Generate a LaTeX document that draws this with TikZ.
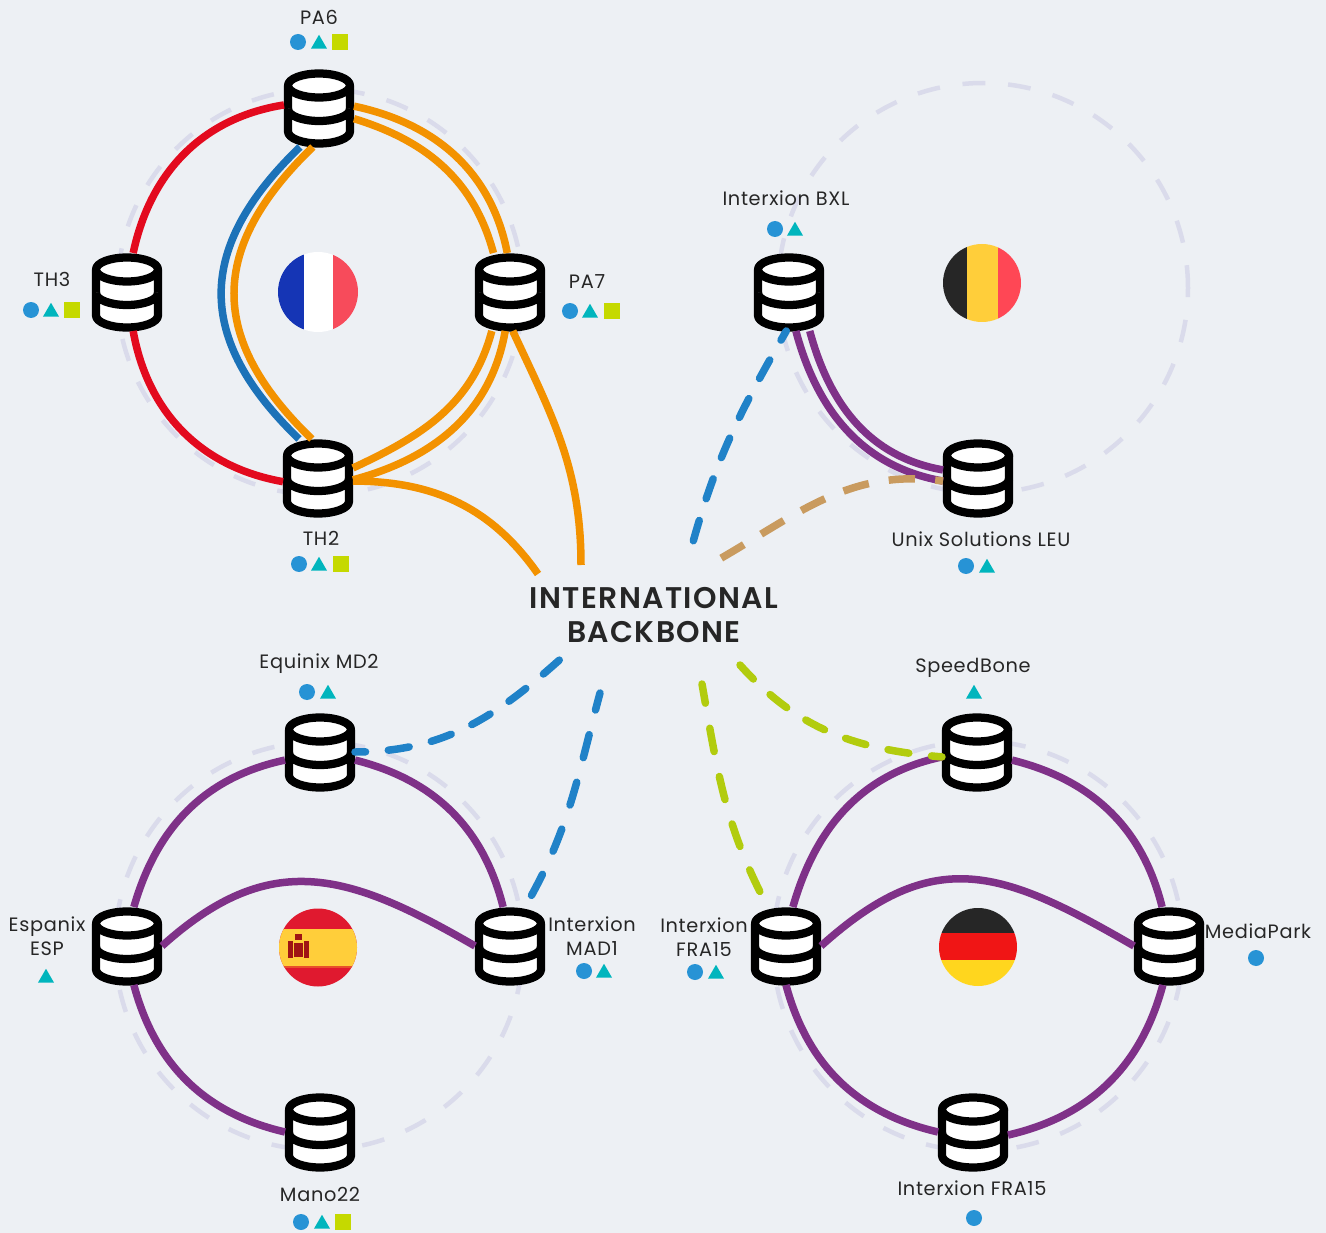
\documentclass[tikz,border=0pt]{standalone}
\usepackage{fontspec}
\setmainfont[LetterSpace=3.5]{Poppins}
\newfontfamily\bbfont[LetterSpace=4.5]{Poppins SemiBold}
\usetikzlibrary{shapes.geometric}

\definecolor{bgcol}{HTML}{EDF0F4}
\definecolor{ringcol}{HTML}{DADBEB}
\definecolor{redcol}{HTML}{E30A1E}
\definecolor{bluecol}{HTML}{1C72B8}
\definecolor{dashblue}{HTML}{2082C8}
\definecolor{orangecol}{HTML}{F39200}
\definecolor{purplecol}{HTML}{7F3188}
\definecolor{tancol}{HTML}{C99B5F}
\definecolor{limecol}{HTML}{B2CC0E}
\definecolor{dotcol}{HTML}{2793D5}
\definecolor{tricol}{HTML}{00B5BD}
\definecolor{sqcol}{HTML}{C5D900}
\definecolor{frblue}{HTML}{1535B5}
\definecolor{frred}{HTML}{F74B5B}
\definecolor{flagblack}{HTML}{262626}
\definecolor{beyellow}{HTML}{FFCE3A}
\definecolor{bered}{HTML}{FF4755}
\definecolor{esred}{HTML}{E0192F}
\definecolor{esdark}{HTML}{A01414}
\definecolor{esstripe}{HTML}{E8502A}
\definecolor{dered}{HTML}{F01515}
\definecolor{deyellow}{HTML}{FFD61E}

\tikzset{
  dbbox/.style={rectangle,minimum width=1.4cm,minimum height=1.56cm,inner sep=0,outer sep=0},
  dbline/.style={draw=black,fill=white,line width=0.165cm,line join=round},
  ringline/.style={draw=ringcol,line width=0.09cm,dash pattern=on 13pt off 13pt},
  link/.style={line width=0.15cm},
  dashlink/.style={line width=0.15cm,line cap=round,dash pattern=on 12pt off 13pt},
  longdash/.style={line width=0.15cm,line cap=round,dash pattern=on 13.5pt off 14.5pt},
  tanlink/.style={line width=0.15cm,draw=tancol,dash pattern=on 15pt off 11.5pt,dash phase=10.5pt},
  lab/.style={font=\fontsize{11}{13.5}\selectfont,text=black!85,inner sep=0,align=center},
  dotmark/.style={circle,fill=dotcol,minimum size=0.32cm,inner sep=0},
  trimark/.style={regular polygon,regular polygon sides=3,fill=tricol,minimum size=0.37cm,inner sep=0},
  sqmark/.style={rectangle,fill=sqcol,minimum size=0.32cm,inner sep=0},
}

\newcommand{\dbnode}[2]{
  \node[dbbox] (#1) at (#2) {};
  \begin{scope}[shift={(#2)}]
    \draw[dbline] (-31,22.5) -- (-31,-23.5) arc[start angle=180,end angle=360,x radius=31,y radius=12] -- (31,22.5);
    \draw[dbline] (-31,-1) arc[start angle=180,end angle=360,x radius=31,y radius=12];
    \draw[dbline] (0,22.5) ellipse[x radius=31,y radius=12];
  \end{scope}
}

\begin{document}
\begin{tikzpicture}[x=0.02cm,y=0.02cm]
  \fill[bgcol] (0,0) rectangle (1326,-1233);

  % rings
  \draw[ringline] (320,-292) circle[radius=203];
  \draw[ringline] (983,-288) circle[radius=205];
  \draw[ringline] (319,-946) circle[radius=204];
  \draw[ringline] (978,-946) circle[radius=205];

  % flags
  \begin{scope}
    \clip (318,-292) circle[radius=40];
    \fill[frblue] (270,-245) rectangle (304,-340);
    \fill[white] (304,-245) rectangle (333,-340);
    \fill[frred] (333,-245) rectangle (365,-340);
  \end{scope}
  \begin{scope}
    \clip (982,-283) circle[radius=39];
    \fill[flagblack] (935,-240) rectangle (967,-330);
    \fill[beyellow] (967,-240) rectangle (998,-330);
    \fill[bered] (998,-240) rectangle (1030,-330);
  \end{scope}
  \begin{scope}
    \clip (318,-947.5) circle[radius=39];
    \fill[esred] (270,-900) rectangle (365,-990);
    \fill[beyellow] (270,-929) rectangle (365,-966);
    \fill[esstripe] (270,-966) rectangle (365,-968);
    \fill[esdark] (288,-941) rectangle (293,-958);
    \fill[esdark] (294,-943) rectangle (303,-957);
    \fill[esdark] (304,-941) rectangle (309,-958);
    \fill[esdark] (295,-934) rectangle (302,-940);
  \end{scope}
  \begin{scope}
    \clip (978,-947) circle[radius=39];
    \fill[flagblack] (930,-900) rectangle (1025,-933);
    \fill[dered] (930,-933) rectangle (1025,-960);
    \fill[deyellow] (930,-960) rectangle (1025,-990);
  \end{scope}

  % data centres
  \dbnode{pa6}{319,-108}
  \dbnode{th3}{127,-292}
  \dbnode{pa7}{510,-292}
  \dbnode{th2}{318,-478}
  \dbnode{bxl}{789,-292}
  \dbnode{leu}{978,-478}
  \dbnode{md2}{320,-752}
  \dbnode{esp}{127,-946}
  \dbnode{mad}{510,-946}
  \dbnode{mano}{320,-1132}
  \dbnode{speed}{977,-752}
  \dbnode{fra}{786,-946}
  \dbnode{media}{1169,-946}
  \dbnode{frab}{973,-1132}

  % backbone
  \node[font=\bbfont\fontsize{17}{19.3}\selectfont,text=black!85,align=center,inner sep=0] (backbone) at (654,-615) {INTERNATIONAL\\BACKBONE};
  \coordinate (bbo1) at (581,-565);
  \coordinate (bbo2) at (538,-574);
  \coordinate (bbb1) at (690,-553);
  \coordinate (bbt1) at (718,-560);
  \coordinate (bbb2) at (565,-655);
  \coordinate (bbb3) at (600,-693);
  \coordinate (bbg1) at (702,-684);
  \coordinate (bbg2) at (740,-665);

  % paris
  \draw[link,redcol] (pa6.175) to[out=189,in=78] (th3.81);
  \draw[link,redcol] (th3.-81) to[out=-80,in=170] (th2.186);
  \draw[link,bluecol] (pa6.244) to[out=224,in=136,looseness=1.27] (th2.116);
  \draw[link,orangecol] (pa6.261) to[out=224,in=136,looseness=1.27] (th2.99);
  \draw[link,orangecol] (pa6.3) to[out=-12,in=101] (pa7.94);
  \draw[link,orangecol] (pa6.-17) to[out=-17,in=105] (pa7.113);
  \draw[link,orangecol] (pa7.263) to[out=-100,in=15] (th2.-3);
  \draw[link,orangecol] (pa7.245) to[out=-105,in=25] (th2.16);
  \draw[link,orangecol] (pa7.-86) to[out=-65,in=90] (bbo1);
  \draw[link,orangecol] (th2.-5) to[out=0,in=125] (bbo2);

  % brussels
  \draw[link,purplecol] (bxl.-80) to[out=-75,in=170] (leu.185);
  \draw[link,purplecol] (bxl.-62) to[out=-75,in=170] (leu.167);
  \draw[dashlink,dashblue,dash phase=6pt] (bxl.-94) to[out=-120,in=75] (bbb1);
  \draw[tanlink] (leu.-175) to[out=172,in=30] (bbt1);

  % madrid
  \draw[link,purplecol] (md2.-167) to[out=192,in=74] (esp.80);
  \draw[link,purplecol] (md2.-13) to[out=-14,in=104] (mad.100);
  \draw[link,purplecol] (esp.-80) to[out=-75,in=167] (mano.west);
  \draw[link,purplecol] (esp.east) to[out=42,in=150,looseness=1.2] (mad.west);
  \draw[dashlink,dashblue,dash phase=6pt] (md2.east) to[out=0,in=222] (bbb2);
  \draw[longdash,dashblue,dash phase=20.4pt] (mad.69) to[out=60,in=-105] (bbb3);

  % frankfurt
  \draw[link,purplecol] (speed.-172) to[out=192,in=74] (fra.80);
  \draw[link,purplecol] (speed.-13) to[out=-14,in=104] (media.100);
  \draw[link,purplecol] (fra.-90) to[out=-75,in=167] (frab.west);
  \draw[link,purplecol] (media.-99) to[out=-105,in=13] (frab.-5);
  \draw[link,purplecol] (fra.east) to[out=42,in=150,looseness=1.25] (media.west);
  \draw[longdash,limecol,dash phase=18pt] (fra.115) to[out=118,in=-80] (bbg1);
  \draw[dashlink,limecol,dash phase=6pt] (speed.-172) to[out=175,in=-48] (bbg2);

  % labels
  \node[lab] (lpa6) at (319,-17) {PA6};
  \node[lab] (lth3) at (52,-279) {TH3};
  \node[lab] (lpa7) at (587,-282) {PA7};
  \node[lab] (lth2) at (321,-538) {TH2};
  \node[lab] (lbxl) at (786,-198) {Interxion BXL};
  \node[lab] (lleu) at (981,-539) {Unix Solutions LEU};
  \node[lab] (lmd2) at (319,-664) {Equinix MD2};
  \node[lab] (lspeed) at (973,-668) {SpeedBone};
  \node[lab] (lesp) at (47,-936) {Espanix\\ESP};
  \node[lab] (lmad) at (592,-936) {Interxion\\MAD1};
  \node[lab] (lfra) at (704,-937) {Interxion\\FRA15};
  \node[lab] (lmedia) at (1258,-931) {MediaPark};
  \node[lab] (lmano) at (320,-1194) {Mano22};
  \node[lab] (lfrab) at (972,-1188) {Interxion FRA15};

  % marks
  \node[dotmark] (pa6a) at (298,-42) {};
  \node[trimark] (pa6b) at (319,-44) {};
  \node[sqmark] (pa6c) at (340,-42) {};
  \node[dotmark] (th3a) at (31,-310) {};
  \node[trimark] (th3b) at (51,-312) {};
  \node[sqmark] (th3c) at (72,-310) {};
  \node[dotmark] (pa7a) at (570,-311) {};
  \node[trimark] (pa7b) at (590,-313) {};
  \node[sqmark] (pa7c) at (612,-311) {};
  \node[dotmark] (th2a) at (299,-564) {};
  \node[trimark] (th2b) at (319,-566) {};
  \node[sqmark] (th2c) at (341,-564) {};
  \node[dotmark] (bxla) at (775,-229) {};
  \node[trimark] (bxlb) at (795,-231) {};
  \node[dotmark] (leua) at (966,-566) {};
  \node[trimark] (leub) at (987,-568) {};
  \node[dotmark] (md2a) at (307,-692) {};
  \node[trimark] (md2b) at (328,-694) {};
  \node[trimark] (speedb) at (974,-694) {};
  \node[trimark] (espb) at (46,-978) {};
  \node[dotmark] (mada) at (584,-971) {};
  \node[trimark] (madb) at (604,-973) {};
  \node[dotmark] (fraa) at (695,-972) {};
  \node[trimark] (frac) at (716,-974) {};
  \node[dotmark] (mediaa) at (1256,-958) {};
  \node[dotmark] (manoa) at (301,-1222) {};
  \node[trimark] (manob) at (322,-1224) {};
  \node[sqmark] (manoc) at (343,-1222) {};
  \node[dotmark] (frabd) at (974,-1218) {};

  \useasboundingbox (0,0) rectangle (1326,-1233);
\end{tikzpicture}
\end{document}
